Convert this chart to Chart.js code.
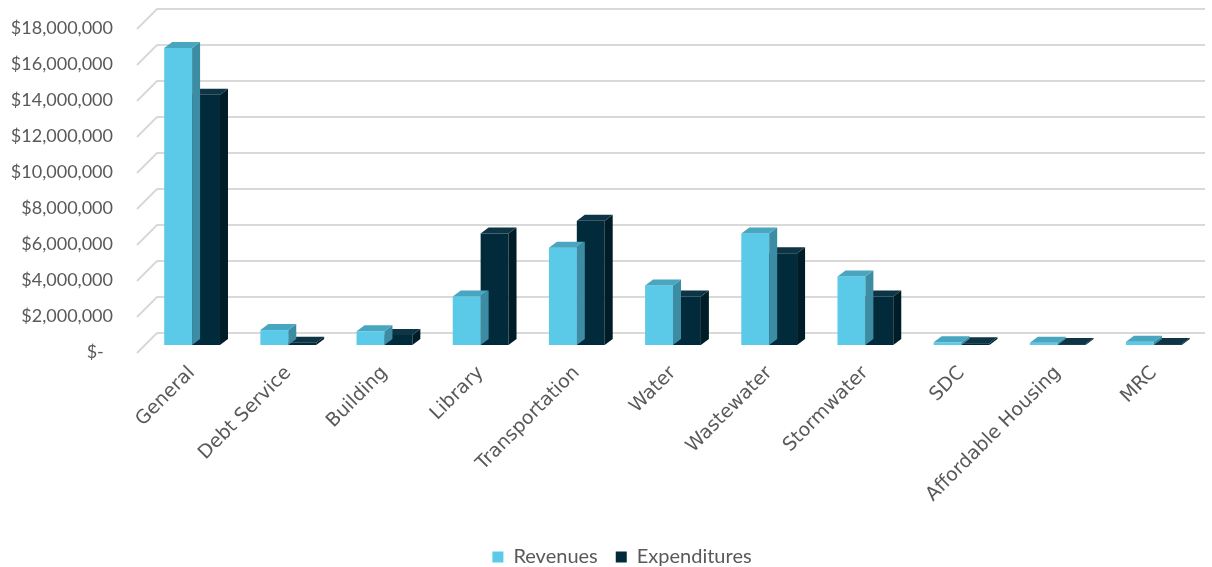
<!DOCTYPE html>
<html>
<head>
<meta charset="utf-8">
<script src="https://cdn.jsdelivr.net/npm/chart.js@4.4.1/dist/chart.umd.min.js"></script>
<style>
  html, body { margin: 0; padding: 0; background: #ffffff; }
  #wrap { width: 1212px; height: 567px; }
</style>
</head>
<body>
<div id="wrap"><canvas id="c" width="1212" height="567"></canvas></div>
<script>
// ---- data ----
const categories = ['General', 'Debt Service', 'Building', 'Library', 'Transportation', 'Water', 'Wastewater', 'Stormwater', 'SDC', 'Affordable Housing', 'MRC'];
const revenues = [16500000, 830000, 760000, 2700000, 5400000, 3300000, 6200000, 3800000, 150000, 120000, 180000];
const expenditures = [13900000, 130000, 560000, 6200000, 6900000, 2700000, 5100000, 2700000, 100000, 50000, 50000];
const yTickValues = [0, 2000000, 4000000, 6000000, 8000000, 10000000, 12000000, 14000000, 16000000, 18000000];
const yTickLabels = ['$-  ', '$2,000,000', '$4,000,000', '$6,000,000', '$8,000,000', '$10,000,000', '$12,000,000', '$14,000,000', '$16,000,000', '$18,000,000'];

// ---- styling ----
const DX = 8, DY = 6;
const faceColors = [
  { side: '#3c8ca4', top: '#48a6c0' },
  { side: '#001c27', top: '#0d3545' }
];
const TARGET_BOTTOM = 345;
const PAD_BOTTOM = -10;
const LEGEND_SHIFT = 21;

const grid3d = {
  id: 'grid3d',
  beforeDatasetsDraw(chart) {
    const ctx = chart.ctx;
    const y = chart.scales.y;
    const area = chart.chartArea;
    ctx.save();
    ctx.strokeStyle = '#d9d9d9';
    ctx.lineWidth = 2;
    yTickValues.forEach(v => {
      const py = y.getPixelForValue(v);
      ctx.beginPath();
      ctx.moveTo(137, py + 8);
      ctx.lineTo(157, py - 12);
      ctx.lineTo(area.right + 3, py - 12);
      ctx.stroke();
    });
    ctx.restore();
  }
};

const bars3d = {
  id: 'bars3d',
  afterDatasetDraw(chart, args) {
    const ctx = chart.ctx;
    const fc = faceColors[args.index];
    ctx.save();
    args.meta.data.forEach(el => {
      const p = el.getProps(['x', 'y', 'base', 'width'], true);
      const l = p.x - p.width / 2, r = p.x + p.width / 2, t = p.y, b = p.base;
      ctx.fillStyle = fc.side;
      ctx.beginPath();
      ctx.moveTo(r, b);
      ctx.lineTo(r + DX, b - DY);
      ctx.lineTo(r + DX, t - DY);
      ctx.lineTo(r, t);
      ctx.closePath();
      ctx.fill();
      ctx.fillStyle = fc.top;
      ctx.beginPath();
      ctx.moveTo(l, t);
      ctx.lineTo(l + DX, t - DY);
      ctx.lineTo(r + DX, t - DY);
      ctx.lineTo(r, t);
      ctx.closePath();
      ctx.fill();
    });
    ctx.restore();
  }
};

const legendShift = {
  id: 'legendShift',
  afterLayout(chart) {
    if (chart.legend) {
      chart.legend.left += LEGEND_SHIFT;
      chart.legend.right += LEGEND_SHIFT;
    }
  }
};

new Chart(document.getElementById('c'), {
  type: 'bar',
  data: {
    labels: categories,
    datasets: [
      { label: 'Revenues', data: revenues, backgroundColor: '#5bcae8', borderWidth: 0 },
      { label: 'Expenditures', data: expenditures, backgroundColor: '#012a3a', borderWidth: 0 }
    ]
  },
  options: {
    responsive: false,
    animation: false,
    devicePixelRatio: 1,
    layout: { padding: { left: 0, right: 10, top: 21, bottom: PAD_BOTTOM } },
    datasets: { bar: { categoryPercentage: 0.58, barPercentage: 1.0 } },
    plugins: {
      legend: {
        position: 'bottom',
        labels: {
          font: { family: 'Lato', size: 20 },
          color: '#595959',
          boxWidth: 11,
          boxHeight: 11,
          padding: 18
        }
      },
      tooltip: { enabled: false }
    },
    scales: {
      x: {
        grid: { display: false, drawTicks: false },
        border: { display: false },
        ticks: {
          minRotation: 45,
          maxRotation: 45,
          autoSkip: false,
          padding: 17,
          font: { family: 'DejaVu Sans', size: 19 },
          color: '#595959'
        },
        afterFit(s) {
          const lg = s.chart.legend ? s.chart.legend.height : 0;
          s.height = 567 - PAD_BOTTOM - lg - TARGET_BOTTOM;
        }
      },
      y: {
        min: 0,
        max: 18000000,
        grid: { display: false, drawTicks: false },
        border: { display: false },
        afterBuildTicks(s) { s.ticks = yTickValues.map(v => ({ value: v })); },
        ticks: {
          padding: 31,
          labelOffset: 7,
          font: { family: 'Lato', size: 18 },
          color: '#595959',
          callback: (v) => yTickLabels[yTickValues.indexOf(v)]
        },
        afterFit(s) {
          s.width = 144;
          s.paddingTop = 0;
          s.paddingBottom = 0;
        }
      }
    }
  },
  plugins: [grid3d, bars3d, legendShift]
});
</script>
</body>
</html>
